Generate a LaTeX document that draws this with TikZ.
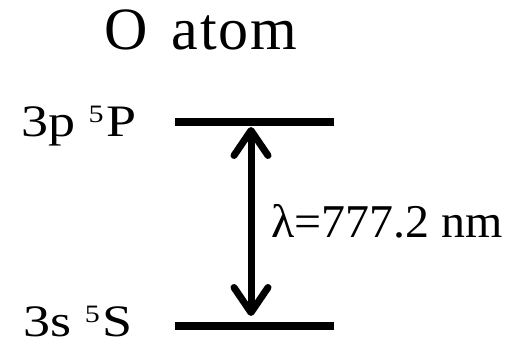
\documentclass[tikz,border=0pt]{standalone}
\usepackage{fontspec}
\setmainfont{Liberation Serif}
\usetikzlibrary{arrows.meta}
\tikzset{
  lbl/.style={inner sep=0pt, anchor=base west},
  statelbl/.style={lbl, xscale=1.2, transform shape, font=\fontsize{45}{45}\selectfont},
  level/.style={line width=8pt},
  trans/.style={line width=7pt, {Straight Barb[length=25pt,width=34pt,round]}-{Straight Barb[length=25pt,width=34pt,round]}}
}
\newcommand{\supfive}{\raisebox{13.5pt}{\fontsize{25}{25}\selectfont 5}}
\begin{document}
\begin{tikzpicture}[x=1pt,y=-1pt]
\useasboundingbox (0,0) rectangle (522,347);
\node[lbl, font=\fontsize{60}{60}\selectfont] (title) at (104,49.5) {O\kern9pt{} a\kern2pt t\kern2pt o\kern2pt m};
\node[statelbl] (up) at (21,136.5) {3p \supfive\kern2pt P};
\node[statelbl] (lo) at (23,336) {3s \supfive\kern2pt S};
\node[lbl, xscale=1.02, transform shape, font=\fontsize{47}{47}\selectfont] (lam) at (271,238) {λ=777.2 nm};
\coordinate (u1) at (175,122);
\coordinate (u2) at (334,122);
\coordinate (l1) at (175,326);
\coordinate (l2) at (334,326);
\coordinate (ta) at (251,127);
\coordinate (tb) at (251,316);
\draw[level] (u1) -- (u2);
\draw[level] (l1) -- (l2);
\draw[trans] (ta) -- (tb);
\end{tikzpicture}
\end{document}
